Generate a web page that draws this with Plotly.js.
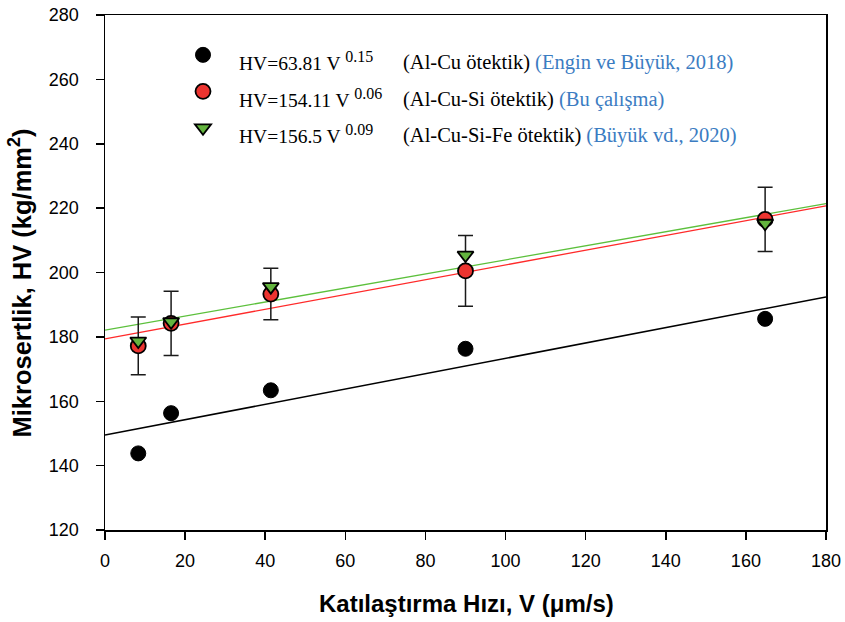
<!DOCTYPE html>
<html>
<head>
<meta charset="utf-8">
<script src="https://cdn.plot.ly/plotly-3.0.1.min.js"></script>
<style>html,body{margin:0;padding:0;background:#fff;}#chart{width:845px;height:622px;}</style>
</head>
<body>
<div id="chart"></div>
<script>
// ---- data ----
const velocity = [8.3, 16.5, 41.4, 90, 164.8];
const hvAlCu = [143.8, 156.3, 163.4, 176.3, 185.6];
const hvAlCuSi = [177.2, 184.2, 193.3, 200.5, 216.5];
const hvAlCuSiErr = [9, 10, 8, 11, 10];
const hvAlCuSiFe = [178.7, 184.7, 195.6, 205.4, 215.3];
const fitX = [0, 180];
const fitAlCu = [149.5, 192.4];
const fitAlCuSi = [179.4, 220.7];
const fitAlCuSiFe = [182.1, 221.4];
const eqCoef = ["HV=63.81 V", "HV=154.11 V", "HV=156.5 V"];
const eqExp = ["0.15", "0.06", "0.09"];
const legendAlloys = ["(Al-Cu ötektik)", "(Al-Cu-Si ötektik)", "(Al-Cu-Si-Fe ötektik)"];
const legendRefs = ["(Engin ve Büyük, 2018)", "(Bu çalışma)", "(Büyük vd., 2020)"];
const xTicks = [0, 20, 40, 60, 80, 100, 120, 140, 160, 180];
const yTicks = [120, 140, 160, 180, 200, 220, 240, 260, 280];
const xTitle = 'Katılaştırma Hızı, V (μm/s)';
const yTitle = 'Mikrosertlik, HV (kg/mm<sup>2</sup>)';

const RED = '#ec3430', GREEN = '#63b43e', BLUE = '#3b7cc2';
const SERIF = '"Liberation Serif", "Times New Roman", serif';
const SANS = '"Liberation Sans", Arial, sans-serif';

const traces = [
  {x: fitX, y: fitAlCu, mode: 'lines', line: {color: '#000', width: 1.5}, showlegend: false, hoverinfo: 'skip'},
  {x: fitX, y: fitAlCuSi, mode: 'lines', line: {color: '#ff2a2a', width: 1.3}, showlegend: false, hoverinfo: 'skip'},
  {x: fitX, y: fitAlCuSiFe, mode: 'lines', line: {color: '#5cc03c', width: 1.3}, showlegend: false, hoverinfo: 'skip'},
  {x: velocity, y: hvAlCuSi, mode: 'markers', marker: {size: 2, opacity: 0}, showlegend: false, hoverinfo: 'skip',
   error_y: {type: 'data', array: hvAlCuSiErr, visible: true, color: '#1a1a1a', thickness: 1.5, width: 7.5}},
  {x: velocity, y: hvAlCu, mode: 'markers', name: '\u00a0', legendgroup: 'a',
   marker: {symbol: 'circle', size: 15, color: '#000', line: {color: '#000', width: 1}}},
  {x: velocity, y: hvAlCuSi, mode: 'markers', name: '\u00a0', legendgroup: 'b',
   marker: {symbol: 'circle', size: 15, color: RED, line: {color: '#000', width: 1.8}}},
  {x: velocity, y: hvAlCuSiFe, mode: 'markers', name: '\u00a0', legendgroup: 'c',
   marker: {symbol: 'triangle-down', size: 14, color: GREEN, line: {color: '#000', width: 1.8}}}
];

const plotLeft = 105, plotW = 721, plotTop = 15, plotH = 515;
const px2x = p => (p - plotLeft) / plotW;
const px2y = p => 1 - (p - plotTop) / plotH;
const baselinePx = [76, 112.5, 149];
const annotations = [];
for (let i = 0; i < 3; i++) {
  annotations.push({
    xref: 'paper', yref: 'paper', x: px2x(237), y: px2y(baselinePx[i]),
    xanchor: 'left', yanchor: 'bottom', showarrow: false, align: 'left',
    text: eqCoef[i] + ' <sup><span style="font-size:16px">' + eqExp[i] + '</span></sup>',
    font: {family: SERIF, size: 19.5, color: '#000'}
  });
  annotations.push({
    xref: 'paper', yref: 'paper', x: px2x(401), y: px2y(baselinePx[i]),
    xanchor: 'left', yanchor: 'bottom', showarrow: false, align: 'left',
    text: legendAlloys[i] + ' <span style="color:' + BLUE + '">' + legendRefs[i] + '</span>',
    font: {family: SERIF, size: 20.5, color: '#000'}
  });
}
annotations.push({
  xref: 'paper', yref: 'paper', x: px2x(466), y: px2y(603), xanchor: 'center', yanchor: 'middle',
  showarrow: false, text: xTitle, font: {family: SANS, size: 24, color: '#000', weight: 'bold'}
});
annotations.push({
  xref: 'paper', yref: 'paper', x: px2x(20), y: px2y(283.5), xanchor: 'center', yanchor: 'middle',
  showarrow: false, textangle: -90, text: yTitle, font: {family: SANS, size: 25.5, color: '#000', weight: 'bold'}
});

const layout = {
  width: 845, height: 622,
  margin: {l: 105, r: 19, t: 15, b: 92, pad: 0},
  paper_bgcolor: '#fff', plot_bgcolor: '#fff',
  showlegend: true,
  legend: {
    x: px2x(167), y: px2y(36), xanchor: 'left', yanchor: 'top',
    bgcolor: 'rgba(0,0,0,0)', borderwidth: 0, itemwidth: 62, tracegroupgap: 8.8, traceorder: 'grouped',
    font: {family: SERIF, size: 19, color: '#000'}
  },
  xaxis: {
    range: [0, 180], tickvals: xTicks, ticktext: xTicks.map(String), ticks: 'outside', ticklen: 8, tickwidth: 1.5,
    tickcolor: '#000', showline: true, linecolor: '#000', linewidth: 1.5, mirror: true, showgrid: false, zeroline: false,
    tickfont: {family: SANS, size: 18, color: '#000'}, ticklabelstandoff: 6
  },
  yaxis: {
    range: [120, 280], tickvals: yTicks, ticktext: yTicks.map(String), ticks: 'outside', ticklen: 8, tickwidth: 1.5,
    tickcolor: '#000', showline: true, linecolor: '#000', linewidth: 1.5, mirror: true, showgrid: false, zeroline: false,
    tickfont: {family: SANS, size: 18, color: '#000'}, ticklabelstandoff: 13
  },
  annotations: annotations
};

Plotly.newPlot('chart', traces, layout, {staticPlot: true, displayModeBar: false});
</script>
</body>
</html>
